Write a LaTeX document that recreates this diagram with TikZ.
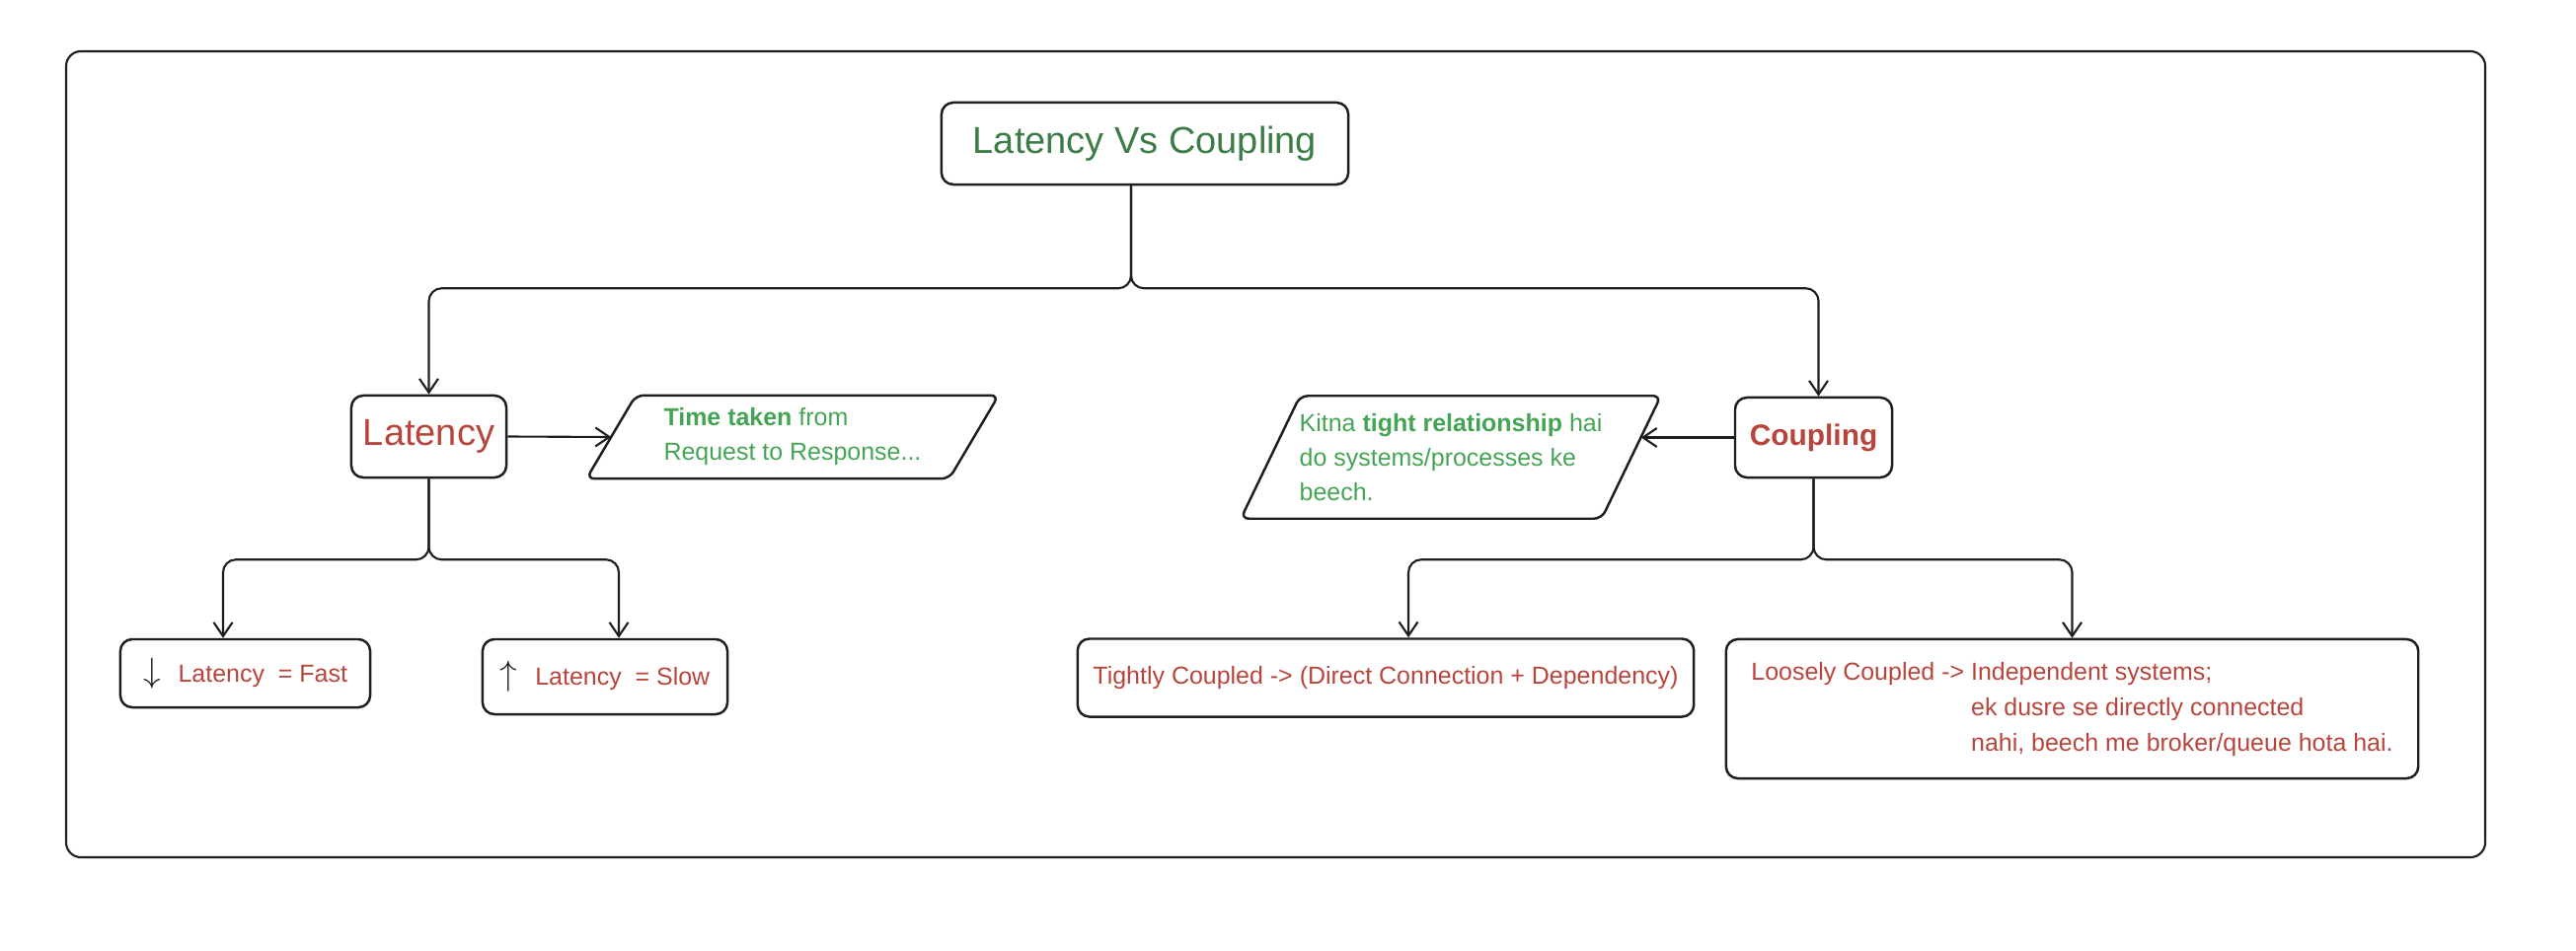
\documentclass[tikz,border=0pt]{standalone}
\usepackage{fontspec}
\setmainfont{Liberation Sans}
\usepackage{xcolor}
\usetikzlibrary{arrows.meta,calc}

\definecolor{ink}{HTML}{1E1E1E}
\definecolor{headgreen}{HTML}{3B7C47}
\definecolor{notegreen}{HTML}{44A454}
\definecolor{termred}{HTML}{B8453C}

\begin{document}
\begin{tikzpicture}[x=0.01cm, y=-0.01cm,
    termbox/.style={draw=ink, line width=0.7pt, rounded corners=0.12cm, inner sep=0pt, align=center, text=termred},
    notebox/.style={inner sep=0pt, align=left, text=notegreen, font=\fontsize{7.1}{9.96}\selectfont},
    paraline/.style={draw=ink, line width=0.7pt, rounded corners=0.08cm},
    link/.style={draw=ink, line width=0.6pt, rounded corners=0.13cm, -{Straight Barb[length=1.4mm,width=1.9mm]}},
    headfont/.style={font=\fontsize{10.8}{13}\selectfont},
    bodyfont/.style={font=\fontsize{7.1}{10.2}\selectfont}]
   \useasboundingbox (0,0) rectangle (2610,964);
   \draw[ink, line width=0.6pt, rounded corners=0.15cm] (67,52) rectangle (2518,869);

   % top of the tree
   \node[termbox, headfont, text=headgreen, minimum width=4.12cm, minimum height=0.83cm] (title) at (1160,145.5) {Latency Vs Coupling};
   \node[termbox, headfont, minimum width=1.57cm, minimum height=0.83cm] (lat) at (434.5,442.5) {Latency};
   \node[termbox, font=\fontsize{8.5}{10}\selectfont\bfseries, minimum width=1.59cm, minimum height=0.81cm] (coup) at (1837.5,443.5) {Coupling};

   % the two definitions
   \node[notebox, minimum width=3.66cm, minimum height=0.83cm] (ttime) at (803,443) {\textbf{Time taken} from\\Request to Response...};
   \draw[paraline] ($(ttime.north west)+(25,0)$) -- ($(ttime.north east)+(25,0)$) -- ($(ttime.south east)+(-25,0)$) -- ($(ttime.south west)+(-25,0)$) -- cycle;
   \node[notebox, minimum width=3.64cm, minimum height=1.23cm] (rel) at (1470,463.5) {Kitna \textbf{tight relationship} hai\\do systems/processes ke\\beech.};
   \draw[paraline] ($(rel.north west)+(30,0)$) -- ($(rel.north east)+(30,0)$) -- ($(rel.south east)+(-30,0)$) -- ($(rel.south west)+(-30,0)$) -- cycle;

   % leaves
   \node[termbox, bodyfont, minimum width=2.53cm, minimum height=0.69cm] (fast) at (248.5,682.5) {\textcolor{ink}{\fontsize{10}{10}\selectfont$\downarrow$}\hspace{0.18cm}Latency\ \ = Fast};
   \node[termbox, bodyfont, minimum width=2.48cm, minimum height=0.76cm] (slow) at (613,686) {\textcolor{ink}{\fontsize{10}{10}\selectfont$\uparrow$}\hspace{0.18cm}Latency\ \ = Slow};
   \node[termbox, bodyfont, minimum width=6.24cm, minimum height=0.79cm] (tight) at (1404,687) {Tightly Coupled -> (Direct Connection + Dependency)};
   \node[termbox, bodyfont, minimum width=7.01cm, minimum height=1.41cm] (loose) at (2099.5,718.5) {\begin{tabular}{@{}l@{\ }l@{}}Loosely Coupled -> & Independent systems;\\ & ek dusre se directly connected\\ & nahi, beech me broker/queue hota hai.\end{tabular}};

   % connectors
   \draw[link] ([xshift=-0.14cm]title.south) -- ++(0,104) -| (lat.north);
   \draw[link] ([xshift=-0.14cm]title.south) -- ++(0,104) -| ([xshift=0.05cm]coup.north);
   \draw[link] (lat.east) -- (ttime.west);
   \draw[link] (coup.west) -- ($(rel.east)+(10,-20)$);
   \draw[link] (lat.south) -- ++(0,82) -| (226,0 |- fast.north);
   \draw[link] (lat.south) -- ++(0,82) -| (627,0 |- slow.north);
   \draw[link] (coup.south) -- ++(0,82) -| (1427,0 |- tight.north);
   \draw[link] (coup.south) -- ++(0,82) -| (loose.north);
\end{tikzpicture}
\end{document}
